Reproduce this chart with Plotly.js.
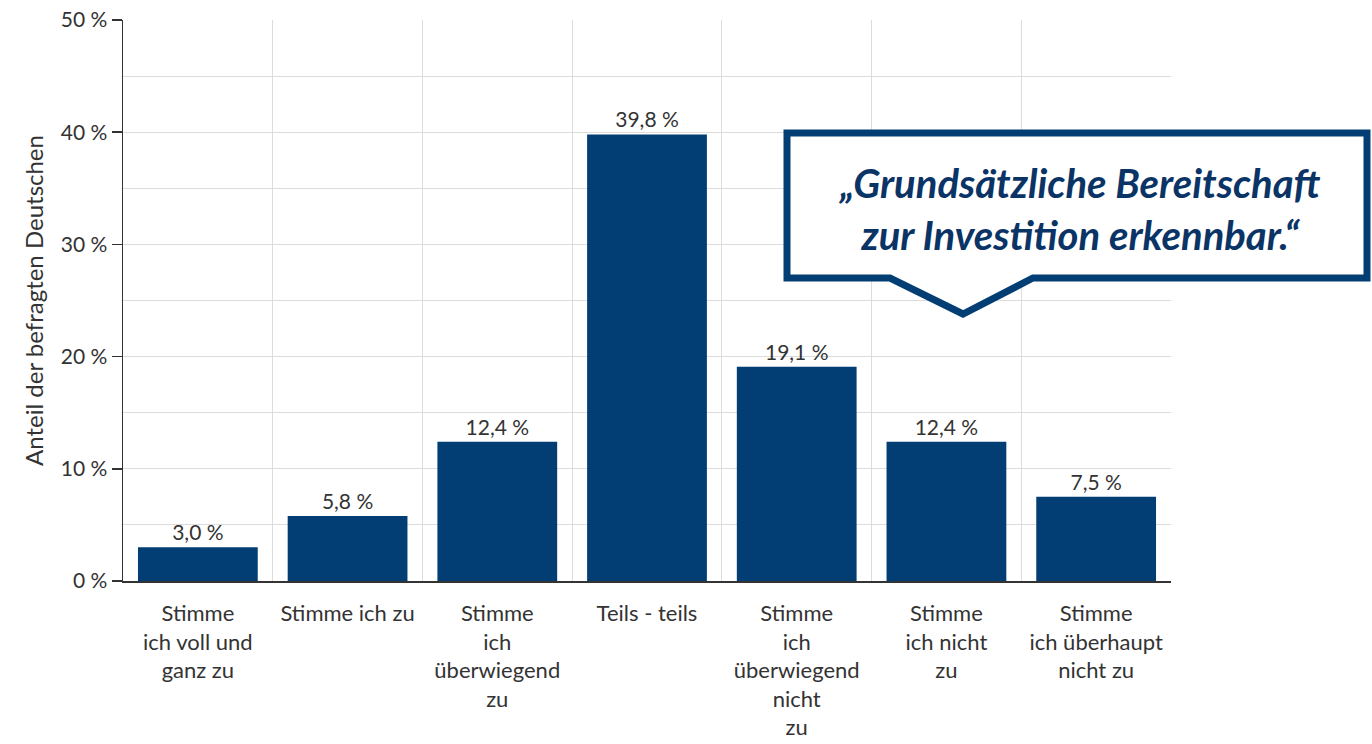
<!DOCTYPE html>
<html><head><meta charset="utf-8">
<script src="https://cdn.plot.ly/plotly-3.0.1.min.js"></script>
<style>html,body{margin:0;padding:0;background:#fff}#chart{width:1372px;height:744px}</style>
</head><body><div id="chart"></div>
<script>
const categories = ["Stimme ich voll und ganz zu","Stimme ich zu","Stimme ich überwiegend zu","Teils - teils","Stimme ich überwiegend nicht zu","Stimme ich nicht zu","Stimme ich überhaupt nicht zu"];
const tickLabels = ["Stimme<br>ich voll und<br>ganz zu","Stimme ich zu","Stimme<br>ich<br>überwiegend<br>zu","Teils - teils","Stimme<br>ich<br>überwiegend<br>nicht<br>zu","Stimme<br>ich nicht<br>zu","Stimme<br>ich überhaupt<br>nicht zu"];
const values = [3.0, 5.8, 12.4, 39.8, 19.1, 12.4, 7.5];
const yTickVals = [0, 10, 20, 30, 40, 50];
const yTickText = yTickVals.map(v => v + " %");
const calloutLines = ["„Grundsätzliche Bereitschaft", "zur Investition erkennbar.“"];

const W = 1372, H = 744;
const M = {l: 123, r: 201, t: 20, b: 163};
const pw = W - M.l - M.r, ph = H - M.t - M.b;
const px = x => (x - M.l) / pw;
const py = y => (H - M.b - y) / ph;

const blue = "#023e73";
const font = "Lato, 'Open Sans', sans-serif";

const calloutPts = [[787,133],[1367,133],[1367,278],[1033,278],[963,314],[890,278],[787,278]];
const path = "M " + calloutPts.map(p => px(p[0]).toFixed(5) + "," + py(p[1]).toFixed(5)).join(" L ") + " Z";

const data = [{
  type: "bar",
  x: categories,
  y: values,
  marker: {color: blue},
  text: values,
  texttemplate: "%{y:.1f} %",
  textposition: "outside",
  textfont: {family: font, size: 21, color: "#333"},
  cliponaxis: false,
  hoverinfo: "none"
}];

const layout = {
  width: W, height: H,
  margin: M,
  paper_bgcolor: "#fff", plot_bgcolor: "#fff",
  separators: ",.",
  showlegend: false,
  bargap: 0.2,
  font: {family: font, size: 21, color: "#333"},
  xaxis: {
    type: "category",
    categoryarray: categories,
    tickvals: categories,
    ticktext: tickLabels,
    tickson: "boundaries",
    ticks: "",
    ticklabelstandoff: 12,
    showgrid: true, gridcolor: "#dcdcdc", gridwidth: 1,
    showline: true, linecolor: "#333", linewidth: 1.5,
    tickfont: {family: font, size: 22, color: "#333"},
    range: [-0.5, categories.length - 0.5],
    fixedrange: true
  },
  xaxis2: {
    overlaying: "x",
    anchor: "y",
    side: "bottom",
    type: "linear",
    range: [-0.5, categories.length - 0.5],
    tickvals: categories.map((_, i) => i),
    showticklabels: false,
    ticks: "outside", ticklen: 7, tickcolor: "#333", tickwidth: 1.5,
    showgrid: false, zeroline: false, showline: false
  },
  yaxis: {
    range: [0, 50],
    tickvals: yTickVals,
    ticktext: yTickText,
    ticks: "outside", ticklen: 10, tickcolor: "#333", tickwidth: 1.5,
    showline: true, linecolor: "#333", linewidth: 1.5,
    showgrid: true, gridcolor: "#dcdcdc", gridwidth: 1,
    minor: {dtick: 5, showgrid: true, gridcolor: "#dcdcdc", gridwidth: 1, ticks: ""},
    zeroline: false,
    tickfont: {family: font, size: 21, color: "#333"},
    title: {text: "Anteil der befragten Deutschen", font: {family: font, size: 24, color: "#333"}, standoff: 10},
    fixedrange: true
  },
  shapes: [{
    type: "path", xref: "paper", yref: "paper",
    path: path,
    fillcolor: "#fff",
    line: {color: blue, width: 7},
    layer: "above"
  }],
  annotations: [{
    xref: "paper", yref: "paper",
    x: px(1080), y: py(209),
    xanchor: "center", yanchor: "middle",
    text: calloutLines.map(s => "<b><i>" + s + "</i></b>").join("<br>"),
    showarrow: false,
    align: "center",
    font: {family: font, size: 40, color: "#0b3466", weight: 700, style: "italic"}
  }]
};

Plotly.newPlot("chart", data, layout, {displayModeBar: false, staticPlot: true});
</script>
</body></html>
